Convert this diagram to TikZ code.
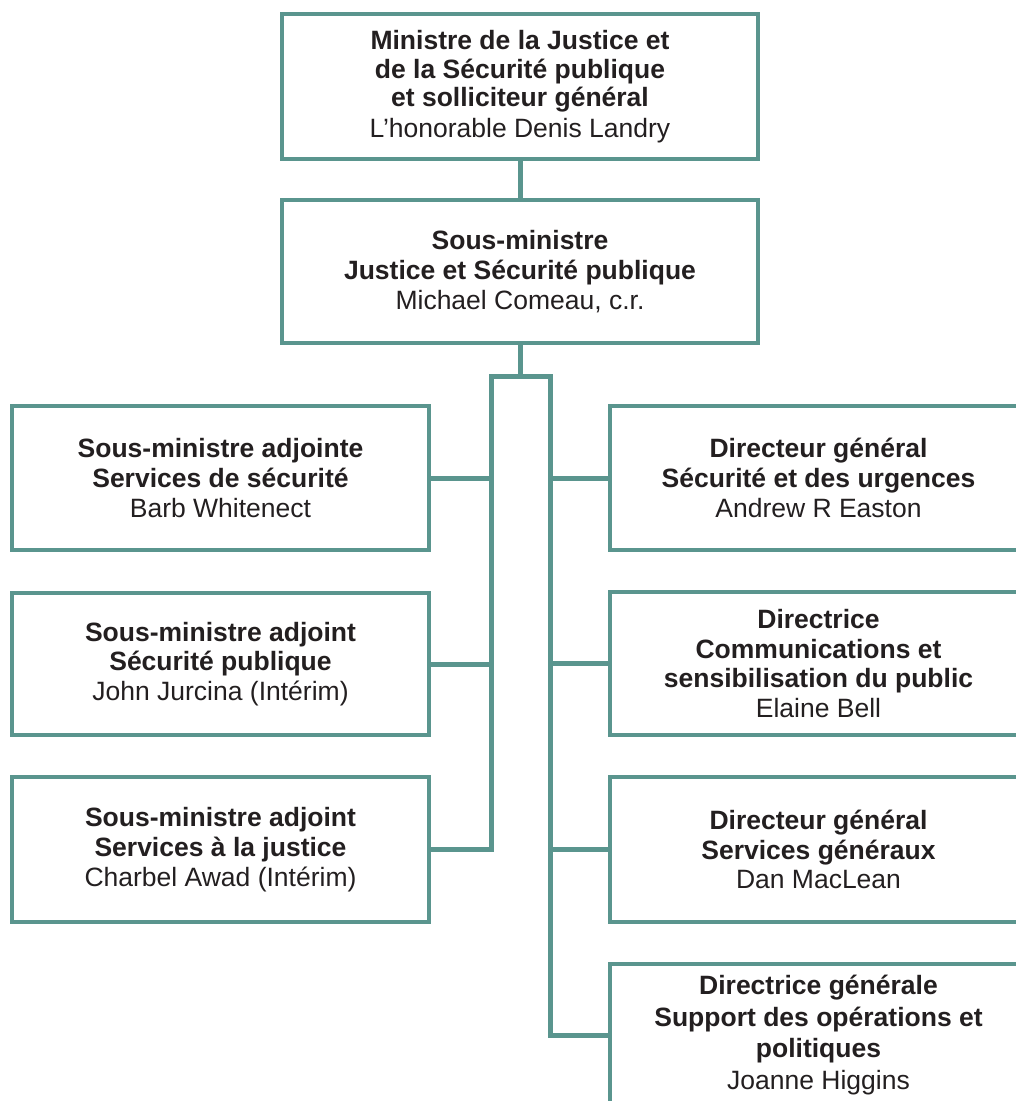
\documentclass[tikz,border=0pt]{standalone}
\usepackage{fontspec}
\setmainfont{Liberation Sans}
\definecolor{teal1}{RGB}{90,149,142}
\definecolor{txt}{RGB}{35,31,32}
\tikzset{
  orgbox/.style={draw=teal1, line width=4pt, fill=white, rectangle, inner sep=0pt,
    align=center, text=txt, font=\fontsize{26.5}{29.8}\selectfont},
  wide/.style={minimum width=476pt, minimum height=145pt},
  side/.style={minimum width=417pt, minimum height=144pt},
  link/.style={draw=teal1, line width=5pt}
}
\begin{document}
\begin{tikzpicture}[x=1pt,y=-1pt]
\useasboundingbox (0,0) rectangle (1016,1101);
\clip (0,0) rectangle (1016,1101);
\fill[white] (0,0) rectangle (1016,1101);

\node[orgbox, wide, font=\fontsize{26.5}{28.6}\selectfont] (min) at (520,86.5) {\textbf{Ministre de la Justice et}\\\textbf{de la Sécurité publique}\\\textbf{et solliciteur général}\\[1.5pt]L’honorable Denis Landry};
\node[orgbox, wide, minimum height=143pt] (sm) at (520,271.5) {\textbf{Sous-ministre}\\\textbf{Justice et Sécurité publique}\\Michael Comeau, c.r.};

\node[orgbox, side] (l1) at (220.5,478) {\textbf{Sous-ministre adjointe}\\\textbf{Services de sécurité}\\Barb Whitenect};
\node[orgbox, side, minimum height=142pt] (l2) at (220.5,664) {\textbf{Sous-ministre adjoint}\\\textbf{Sécurité publique}\\John Jurcina (Intérim)};
\node[orgbox, side, minimum height=145pt] (l3) at (220.5,849.5) {\textbf{Sous-ministre adjoint}\\\textbf{Services à la justice}\\Charbel Awad (Intérim)};

\node[orgbox, side] (r1) at (818.5,478) {\textbf{Directeur général}\\\textbf{Sécurité et des urgences}\\Andrew R Easton};
\node[orgbox, side, minimum height=143pt] (r2) at (818.5,663.5) {\textbf{Directrice}\\\textbf{Communications et}\\\textbf{sensibilisation du public}\\Elaine Bell};
\node[orgbox, side, minimum height=145pt] (r3) at (818.5,849.5) {\textbf{Directeur général}\\\textbf{Services généraux}\\Dan MacLean};
\node[orgbox, side, minimum height=143pt, font=\fontsize{26.5}{31.5}\selectfont] (r4) at (818.5,1035) {\textbf{Directrice générale}\\\textbf{Support des opérations et}\\\textbf{politiques}\\Joanne Higgins};

\coordinate (hub) at (520,376);
\coordinate (lt) at (491,376);
\coordinate (rt) at (550,376);

\draw[link] (min.south) -- (sm.north);
\draw[link] (sm.south) -- (hub);
\draw[link] (l3.east) -| (lt) -- (rt) |- (r4.west);
\draw[link] (l1.east) -- (l1.east -| lt);
\draw[link] (l2.east) -- (l2.east -| lt);
\draw[link] (r1.west) -- (r1.west -| rt);
\draw[link] (r2.west) -- (r2.west -| rt);
\draw[link] (r3.west) -- (r3.west -| rt);
\end{tikzpicture}
\end{document}
